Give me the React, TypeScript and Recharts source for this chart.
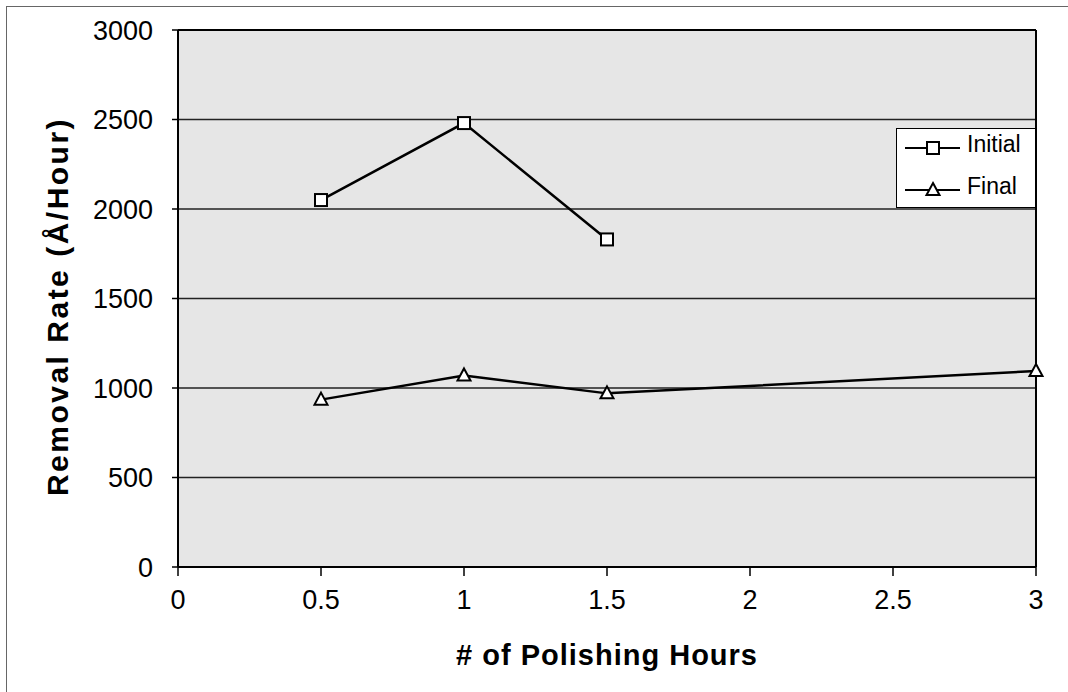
import {
  LineChart,
  Line,
  XAxis,
  YAxis,
  CartesianGrid,
  ReferenceLine,
  Legend,
} from 'recharts'

const HOURS = [0.5, 1, 1.5, 3]
const INITIAL = [2050, 2480, 1830, null]
const FINAL = [935, 1070, 970, 1095]
const X_TICKS = [0, 0.5, 1, 1.5, 2, 2.5, 3]
const Y_TICKS = [0, 500, 1000, 1500, 2000, 2500, 3000]
const SERIES = [
  { key: 'initial', name: 'Initial', shape: 'square' },
  { key: 'final', name: 'Final', shape: 'triangle' },
]

const FONT = '"Liberation Sans", Arial, sans-serif'

const data = HOURS.map((h, i) => ({
  hours: h,
  initial: INITIAL[i],
  final: FINAL[i],
}))

// 空心方块 / 三角形标记
const Marker = ({ cx, cy, shape }: { cx: number; cy: number; shape: string }) => {
  if (cx == null || cy == null) return null
  if (shape === 'square') {
    return (
      <rect x={cx - 6} y={cy - 6} width={12} height={12} fill="#fff" stroke="#000" strokeWidth={2} />
    )
  }
  return (
    <polygon
      points={`${cx},${cy - 7} ${cx + 6.5},${cy + 5} ${cx - 6.5},${cy + 5}`}
      fill="#fff"
      stroke="#000"
      strokeWidth={2}
    />
  )
}

const LegendBox = () => (
  <div
    style={{
      width: 140,
      height: 80,
      background: '#fff',
      border: '1.5px solid #000',
      boxSizing: 'border-box',
      fontFamily: FONT,
    }}
  >
    <svg width={137} height={77} style={{ display: 'block' }}>
      {SERIES.map((s, i) => {
        const y = 19 + i * 42
        return (
          <g key={s.key}>
            <line x1={8} x2={63} y1={y} y2={y} stroke="#000" strokeWidth={2} />
            <Marker cx={36} cy={y} shape={s.shape} />
            <text x={70} y={y - 4} fontSize={23} fill="#000" dominantBaseline="central">
              {s.name}
            </text>
          </g>
        )
      })}
    </svg>
  </div>
)

export default function App() {
  return (
    <div style={{ position: 'absolute', left: 0, top: 0, width: 1068, height: 692, background: '#fff' }}>
      <div
        style={{
          position: 'absolute',
          left: 6,
          top: 6,
          right: 0,
          bottom: 0,
          borderTop: '1.5px solid #666',
          borderLeft: '1.5px solid #666',
        }}
      />
      <div style={{ position: 'absolute', left: 0, top: 0 }}>
        <LineChart
          width={1068}
          height={692}
          data={data}
          margin={{ top: 30, right: 32, left: 0, bottom: 0 }}
        >
          <CartesianGrid vertical={false} fill="#e6e6e6" stroke="#222" strokeWidth={1.5} />
          <XAxis
            dataKey="hours"
            type="number"
            domain={[0, 3]}
            ticks={X_TICKS}
            height={125}
            tick={{ fill: '#000', fontSize: 27, fontFamily: FONT }}
            tickSize={9}
            tickMargin={14}
            axisLine={{ stroke: '#000', strokeWidth: 2 }}
            tickLine={{ stroke: '#000', strokeWidth: 1.5 }}
            label={{
              content: ({ viewBox }: any) => (
                <text
                  x={viewBox.x + viewBox.width / 2}
                  y={655}
                  textAnchor="middle"
                  dominantBaseline="central"
                  fontSize={29}
                  fontWeight="bold"
                  letterSpacing={1}
                  fontFamily={FONT}
                  fill="#000"
                >
                  # of Polishing Hours
                </text>
              ),
            }}
          />
          <YAxis
            type="number"
            domain={[0, 3000]}
            ticks={Y_TICKS}
            width={178}
            tick={{ fill: '#000', fontSize: 27, fontFamily: FONT }}
            tickSize={6}
            tickMargin={19}
            axisLine={{ stroke: '#000', strokeWidth: 2 }}
            tickLine={{ stroke: '#000', strokeWidth: 1.5 }}
            label={{
              content: ({ viewBox }: any) => {
                const cx = 57
                const cy = viewBox.y + viewBox.height / 2 + 8
                return (
                  <text
                    x={cx}
                    y={cy}
                    transform={`rotate(-90 ${cx} ${cy})`}
                    textAnchor="middle"
                    dominantBaseline="central"
                    fontSize={30}
                    fontWeight="bold"
                    letterSpacing={2.5}
                    fontFamily={FONT}
                    fill="#000"
                  >
                    Removal Rate (Å/Hour)
                  </text>
                )
              },
            }}
          />
          <ReferenceLine x={3} stroke="#000" strokeWidth={2} />
          <ReferenceLine y={3000} stroke="#000" strokeWidth={2} />
          <Legend
            layout="horizontal"
            verticalAlign="middle"
            align="center"
            wrapperStyle={{ position: 'absolute', left: 896, top: 128, width: 140 }}
            content={() => <LegendBox />}
          />
          {SERIES.map(s => (
            <Line
              key={s.key}
              dataKey={s.key}
              name={s.name}
              type="linear"
              stroke="#000"
              strokeWidth={2.5}
              isAnimationActive={false}
              connectNulls={false}
              dot={(p: any) => <Marker key={`${s.key}-${p.index}`} cx={p.cx} cy={p.cy} shape={s.shape} />}
              activeDot={false}
            />
          ))}
        </LineChart>
      </div>
    </div>
  )
}
